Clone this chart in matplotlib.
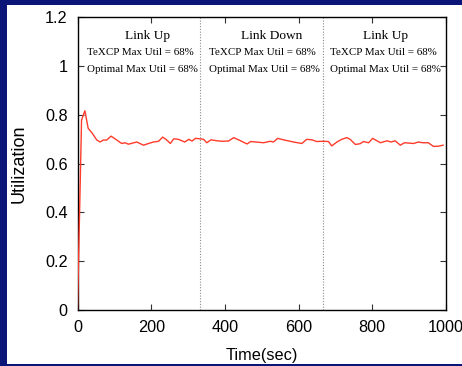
import matplotlib
matplotlib.use("Agg")
import matplotlib.pyplot as plt
from matplotlib.patches import Rectangle

time_sec = [0, 11, 20, 29, 40, 52, 61, 70, 79, 91, 102, 120, 129, 138, 161, 179, 193, 206,
            220, 231, 240, 252, 261, 274, 291, 302, 311, 320, 333, 342, 351, 362, 379, 392,
            410, 424, 437, 460, 470, 505, 523, 532, 543, 559, 586, 609, 622, 636, 649, 667,
            681, 690, 704, 717, 731, 740, 754, 767, 776, 790, 801, 822, 840, 851, 862, 876,
            887, 912, 925, 937, 952, 966, 980, 992]
utilization = [0.0, 0.778, 0.816, 0.744, 0.724, 0.697, 0.688, 0.696, 0.696, 0.712, 0.701,
               0.682, 0.685, 0.679, 0.688, 0.675, 0.682, 0.688, 0.691, 0.708, 0.699, 0.682,
               0.701, 0.699, 0.688, 0.699, 0.692, 0.703, 0.701, 0.699, 0.685, 0.697, 0.693,
               0.691, 0.692, 0.706, 0.697, 0.680, 0.690, 0.685, 0.691, 0.688, 0.703, 0.697,
               0.688, 0.682, 0.699, 0.697, 0.690, 0.691, 0.690, 0.672, 0.688, 0.699, 0.706,
               0.699, 0.678, 0.681, 0.690, 0.685, 0.703, 0.685, 0.693, 0.688, 0.693, 0.675,
               0.685, 0.682, 0.688, 0.685, 0.685, 0.670, 0.671, 0.675]

phase_bounds = [333, 667]
phase_titles = ["Link Up", "Link Down", "Link Up"]
phase_title_x = [190, 528, 836]
phase_text_x = [27, 357, 686]
texcp_lines = ["TeXCP Max Util = 68%"] * 3
optimal_lines = ["Optimal Max Util = 68%"] * 3

x_ticks = [0, 200, 400, 600, 800, 1000]
y_ticks = [0, 0.2, 0.4, 0.6, 0.8, 1.0, 1.2]
y_tick_labels = ["0", "0.2", "0.4", "0.6", "0.8", "1", "1.2"]

W, H = 462, 366
fig = plt.figure(figsize=(W / 100, H / 100), dpi=100)
fig.patch.set_facecolor("#0b1577")
fig.patches.append(Rectangle((7 / W, 2 / H), 1 - 7 / W, (H - 7) / H,
                             transform=fig.transFigure, facecolor="white",
                             edgecolor="none", zorder=0))

ax = fig.add_axes([77.5 / W, (H - 310) / H, (446 - 77.5) / W, (310 - 17) / H])
ax.set_facecolor("white")
ax.set_zorder(1)

ax.plot(time_sec, utilization, color="#ff3b2b", lw=1.0, zorder=3)
for b in phase_bounds:
    ax.axvline(b, color="#8a8a8a", lw=0.8, ls=(0, (1, 1.5)), zorder=2)

serif = ["Liberation Serif", "DejaVu Serif"]
for i in range(3):
    ax.text(phase_title_x[i], 1.123, phase_titles[i], ha="center", va="center",
            fontsize=9.6, family=serif)
    ax.text(phase_text_x[i], 1.055, texcp_lines[i], ha="left", va="center",
            fontsize=7.9, family=serif)
    ax.text(phase_text_x[i], 0.986, optimal_lines[i], ha="left", va="center",
            fontsize=7.9, family=serif)

ax.set_xlim(0, 1000)
ax.set_ylim(0, 1.2)
ax.set_xticks(x_ticks)
ax.set_yticks(y_ticks)
ax.set_yticklabels(y_tick_labels)
sans = ["Liberation Sans", "DejaVu Sans"]
for lab in ax.get_xticklabels() + ax.get_yticklabels():
    lab.set_family(sans)
    lab.set_fontsize(11.7)
ax.tick_params(direction="in", length=4, width=0.8, top=True, right=True,
               color="#333333", pad=7)
for s in ax.spines.values():
    s.set_linewidth(1.0)
    s.set_color("black")

ax.set_xlabel("Time(sec)", family=sans, fontsize=11.7)
ax.set_ylabel("Utilization", family=sans, fontsize=13)
ax.xaxis.set_label_coords(0.5, -0.128)
ax.yaxis.set_label_coords(-0.135, 0.5)

fig.savefig("out.png", dpi=100)
